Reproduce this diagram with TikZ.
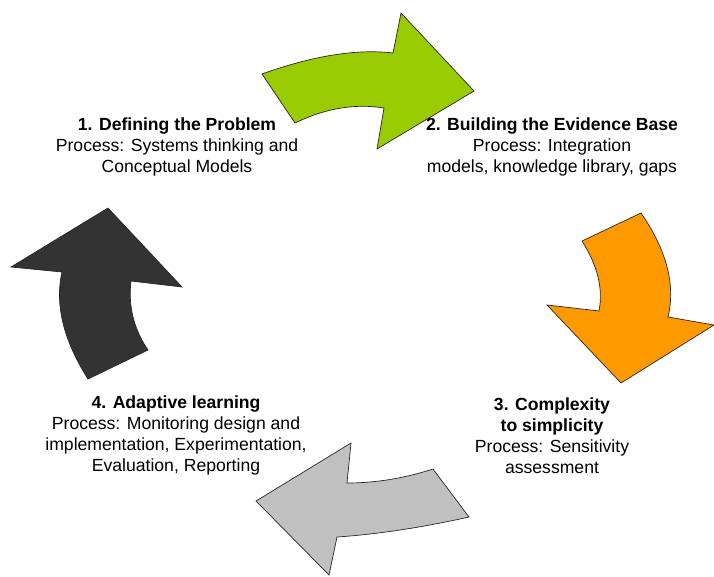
\documentclass[tikz,border=0pt]{standalone}
\usepackage{fontspec}
\setmainfont{Liberation Sans}
\definecolor{cgreen}{HTML}{99CC00}
\definecolor{corange}{HTML}{FF9900}
\definecolor{cgray}{HTML}{C0C0C0}
\definecolor{cdark}{HTML}{333333}
\begin{document}
\begin{tikzpicture}[x=1pt,y=-1pt,
  arrowshape/.style={draw=black!85,line width=0.7pt,line join=miter},
  label/.style={align=center,font=\fontsize{17.6}{21}\selectfont,inner sep=0pt}]
\useasboundingbox (0,0) rectangle (714,576);
% green arrow
\filldraw[arrowshape,fill=cgreen] (262,74) .. controls (313,55.7) and (356.7,48.7) .. (393,53) -- (401,13) -- (474,91) -- (377,149) -- (384,108) .. controls (355,103.3) and (325.3,108.3) .. (295,123) -- cycle;
% orange arrow
\filldraw[arrowshape,fill=corange] (582,241) -- (641,213) .. controls (666.7,250.3) and (675.7,285) .. (668,317) -- (714,325) -- (621,383) -- (547,305) -- (599,311) .. controls (603.3,289) and (597.7,265.7) .. (582,241) -- cycle;
% gray arrow
\filldraw[arrowshape,fill=cgray] (433,469) -- (469,517) .. controls (421,527.7) and (377,534.3) .. (337,537) -- (329,575) -- (256,501) -- (351,443) -- (347,483) .. controls (375.7,483) and (404.3,478.3) .. (433,469) -- cycle;
% dark arrow
\filldraw[arrowshape,fill=cdark] (88,379) -- (148,350) .. controls (133.7,329) and (128,306) .. (131,281) -- (182,287) -- (108,208) -- (11,267) -- (62,272) .. controls (54.7,304.3) and (63.3,340) .. (88,379) -- cycle;
% labels
\node[label] (s1) at (177,147) {\textbf{1. Defining the Problem}\\Process: Systems thinking and\\Conceptual Models};
\node[label] (s2) at (552,147) {\textbf{2. Building the Evidence Base}\\Process: Integration\\models, knowledge library, gaps};
\node[label] (s3) at (552,435.5) {\textbf{3. Complexity}\\\textbf{to simplicity}\\Process: Sensitivity\\assessment};
\node[label] (s4) at (176,435.5) {\textbf{4. Adaptive learning}\\Process: Monitoring design and\\implementation, Experimentation,\\Evaluation, Reporting};
\end{tikzpicture}
\end{document}
